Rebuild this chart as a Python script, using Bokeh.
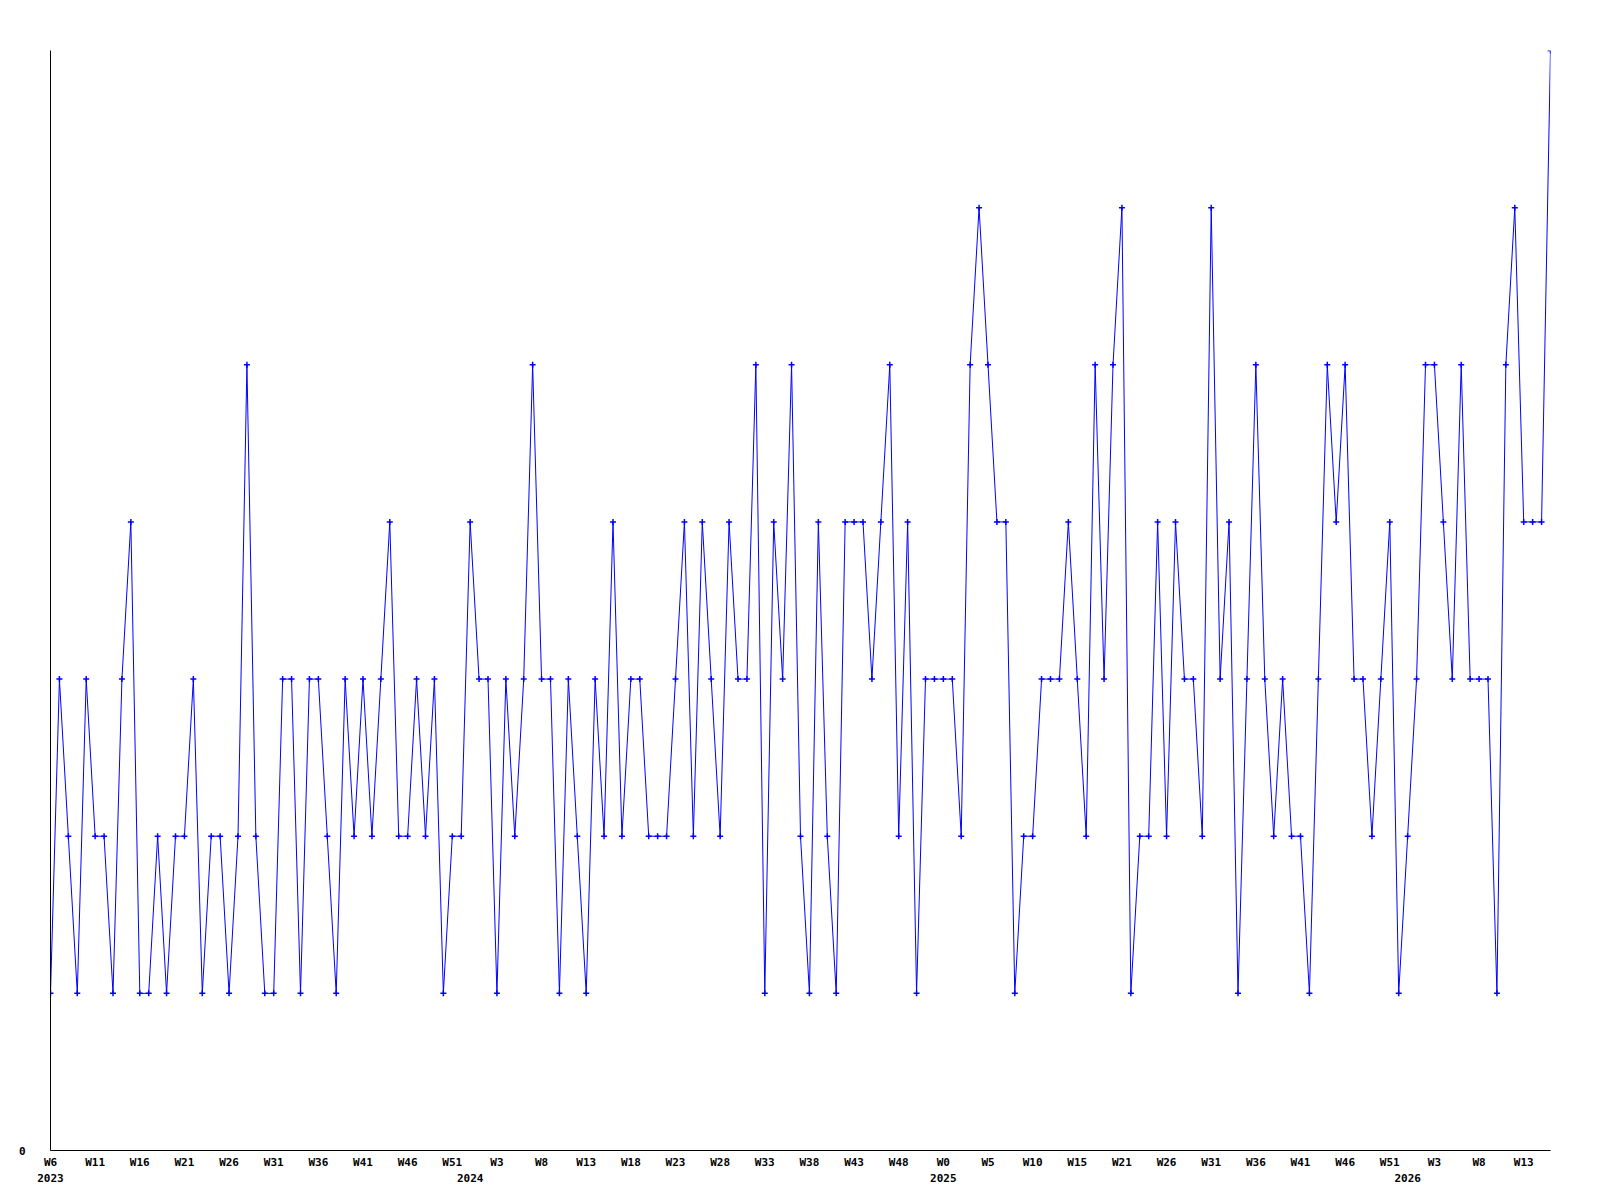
from bokeh.plotting import figure
from bokeh.models import Range1d, FixedTicker, LinearAxis
from bokeh.embed import file_html
from bokeh.resources import INLINE

# weekly counts, W6 2023 .. W16 2026
values = [
    1, 3, 2, 1, 3, 2, 2, 1, 3, 4,
    1, 1, 2, 1, 2, 2, 3, 1, 2, 2,
    1, 2, 5, 2, 1, 1, 3, 3, 1, 3,
    3, 2, 1, 3, 2, 3, 2, 3, 4, 2,
    2, 3, 2, 3, 1, 2, 2, 4, 3, 3,
    1, 3, 2, 3, 5, 3, 3, 1, 3, 2,
    1, 3, 2, 4, 2, 3, 3, 2, 2, 2,
    3, 4, 2, 4, 3, 2, 4, 3, 3, 5,
    1, 4, 3, 5, 2, 1, 4, 2, 1, 4,
    4, 4, 3, 4, 5, 2, 4, 1, 3, 3,
    3, 3, 2, 5, 6, 5, 4, 4, 1, 2,
    2, 3, 3, 3, 4, 3, 2, 5, 3, 5,
    6, 1, 2, 2, 4, 2, 4, 3, 3, 2,
    6, 3, 4, 1, 3, 5, 3, 2, 3, 2,
    2, 1, 3, 5, 4, 5, 3, 3, 2, 3,
    4, 1, 2, 3, 5, 5, 4, 3, 5, 3,
    3, 3, 1, 5, 6, 4, 4, 4, 7,
]
week_index = list(range(len(values)))

week_tick_idx = [0, 5, 10, 15, 20, 25, 30, 35, 40, 45, 50, 55, 60, 65, 70, 75, 80,
                 85, 90, 95, 100, 105, 110, 115, 120, 125, 130, 135, 140, 145, 150,
                 155, 160, 165]
week_tick_labels = ["W6", "W11", "W16", "W21", "W26", "W31", "W36", "W41", "W46",
                    "W51", "W3", "W8", "W13", "W18", "W23", "W28", "W33", "W38",
                    "W43", "W48", "W0", "W5", "W10", "W15", "W21", "W26", "W31",
                    "W36", "W41", "W46", "W51", "W3", "W8", "W13"]
year_tick_idx = [0, 47, 100, 152]
year_tick_labels = ["2023", "2024", "2025", "2026"]
y_ticks = [0]
y_top = 7

FONT = "DejaVu Sans Mono"
FSIZE = "11px"

p = figure(width=1592, height=1192,
           x_range=Range1d(0, len(values) - 1), y_range=Range1d(0, y_top),
           output_backend="svg", toolbar_location=None,
           min_border_left=50, min_border_right=42,
           min_border_top=50, min_border_bottom=42,
           x_axis_type=None, y_axis_type=None)
p.outline_line_color = None
p.background_fill_color = "white"
p.border_fill_color = "white"

p.line(week_index, values, line_color="#0000ff", line_width=1)
p.scatter(week_index, values, marker="cross", size=6, line_color="#0000ff",
          line_width=1.5)


def style(ax, standoff, show_line):
    ax.major_label_text_font = FONT
    ax.major_label_text_font_style = "bold"
    ax.major_label_text_font_size = FSIZE
    ax.major_label_text_color = "black"
    ax.major_tick_line_color = None
    ax.minor_tick_line_color = None
    ax.major_tick_out = 0
    ax.major_tick_in = 0
    ax.major_label_standoff = standoff
    if show_line:
        ax.axis_line_color = "black"
        ax.axis_line_width = 1
    else:
        ax.axis_line_color = None


xa = LinearAxis(ticker=FixedTicker(ticks=week_tick_idx),
                major_label_overrides={i: s for i, s in zip(week_tick_idx, week_tick_labels)})
style(xa, 5, True)
p.add_layout(xa, "below")

ya = LinearAxis(ticker=FixedTicker(ticks=year_tick_idx),
                major_label_overrides={i: s for i, s in zip(year_tick_idx, year_tick_labels)})
style(ya, 2, False)
p.add_layout(ya, "below")

yl = LinearAxis(ticker=FixedTicker(ticks=y_ticks))
style(yl, 25, True)
p.add_layout(yl, "left")

open("out.html", "w").write(file_html(p, INLINE))
